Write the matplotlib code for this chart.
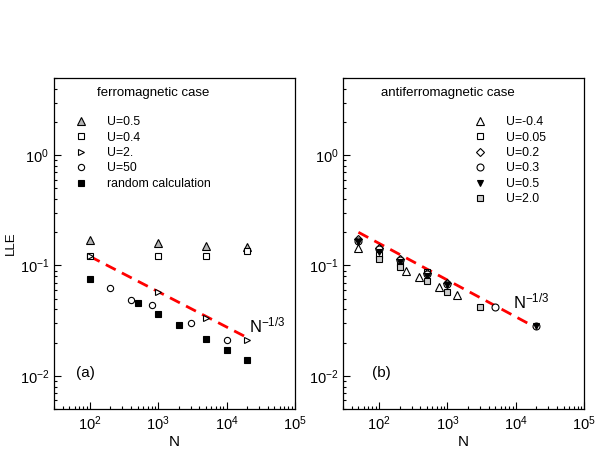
import matplotlib
matplotlib.use("Agg")
import matplotlib.pyplot as plt
from matplotlib.ticker import LogLocator, NullFormatter

plt.rcParams["font.family"] = ["Liberation Sans", "DejaVu Sans"]
plt.rcParams["mathtext.fontset"] = "custom"
plt.rcParams["mathtext.rm"] = "Liberation Sans"
plt.rcParams["mathtext.it"] = "Liberation Sans:italic"

# ---------------------------------------------------------
# Data: ferromagnetic case (a)
# ---------------------------------------------------------
fm_u05_n = [100, 1000, 5000, 20000]
fm_u05_y = [0.17, 0.159, 0.151, 0.148]

fm_u04_n = [100, 1000, 5000, 20000]
fm_u04_y = [0.123, 0.121, 0.123, 0.135]

fm_u2_n = [100, 1000, 5000, 20000]
fm_u2_y = [0.123, 0.0575, 0.0336, 0.0211]

fm_u50_n = [200, 400, 800, 3000, 10000]
fm_u50_y = [0.062, 0.0488, 0.0436, 0.0303, 0.0211]

fm_rand_n = [100, 500, 1000, 2000, 5000, 10000, 20000]
fm_rand_y = [0.0754, 0.046, 0.0367, 0.0286, 0.0217, 0.017, 0.0139]

fm_fit_n = [100, 20000]
fm_fit_y = [0.121, 0.0222]

# ---------------------------------------------------------
# Data: antiferromagnetic case (b)
# ---------------------------------------------------------
af_um04_n = [50, 250, 380, 750, 1400]
af_um04_y = [0.145, 0.0896, 0.0786, 0.0638, 0.0545]

af_u005_n = [100, 200, 500]
af_u005_y = [0.125, 0.105, 0.088]

af_u02_n = [50, 100, 200, 500, 1000]
af_u02_y = [0.175, 0.143, 0.115, 0.085, 0.07]

af_u03_n = [50, 100, 200, 500, 1000, 5000, 20000]
af_u03_y = [0.168, 0.14, 0.113, 0.083, 0.068, 0.042, 0.0283]

af_u05_n = [50, 100, 200, 500, 1000, 20000]
af_u05_y = [0.163, 0.133, 0.108, 0.08, 0.066, 0.0283]

af_u20_n = [100, 200, 500, 1000, 3000]
af_u20_y = [0.115, 0.097, 0.073, 0.058, 0.042]

af_fit_n = [50, 20000]
af_fit_y = [0.2, 0.0272]

GRAY = "#b4b4b4"
LIGHT = "#cccccc"


def style_axis(ax):
    ax.set_xscale("log")
    ax.set_yscale("log")
    ax.set_xlim(30, 1e5)
    ax.set_ylim(0.005, 5)
    ax.xaxis.set_major_locator(LogLocator(base=10, numticks=10))
    ax.yaxis.set_major_locator(LogLocator(base=10, numticks=10))
    ax.xaxis.set_minor_locator(LogLocator(base=10, subs=range(2, 10), numticks=20))
    ax.yaxis.set_minor_locator(LogLocator(base=10, subs=range(2, 10), numticks=20))
    ax.xaxis.set_minor_formatter(NullFormatter())
    ax.yaxis.set_minor_formatter(NullFormatter())
    ax.tick_params(which="both", direction="in", top=False, right=False,
                   labelsize=10.5)
    ax.tick_params(which="major", length=5, width=0.8)
    ax.tick_params(which="minor", length=2.5, width=0.8)
    ax.set_xlabel("N", fontsize=11, labelpad=2)
    for s in ax.spines.values():
        s.set_linewidth(0.9)


def fit_line(ax, n, y):
    ax.plot(n, y, color="red", lw=2, linestyle=(0, (4, 2.5)), zorder=2)


fig = plt.figure(figsize=(5.98, 4.55), dpi=100)

kw = dict(linestyle="none", markeredgecolor="black", markeredgewidth=0.8, zorder=3)
leg_kw = dict(loc="upper left", frameon=False, fontsize=8.8, handlelength=2.0,
              handletextpad=1.1, labelspacing=0.28, borderaxespad=0, borderpad=0)

# ---------------------------------------------------------
# Panel (a)
# ---------------------------------------------------------
ax1 = fig.add_axes([0.0903, 0.101, 0.403, 0.7275])
style_axis(ax1)
fit_line(ax1, fm_fit_n, fm_fit_y)

ax1.plot(fm_u05_n, fm_u05_y, marker="^", ms=5.5, markerfacecolor=GRAY,
         label="U=0.5", **kw)
ax1.plot(fm_u04_n, fm_u04_y, marker="s", ms=4.2, markerfacecolor="white",
         label="U=0.4", **kw)
ax1.plot(fm_u2_n, fm_u2_y, marker=">", ms=5, markerfacecolor="white",
         label="U=2.", **kw)
ax1.plot(fm_u50_n, fm_u50_y, marker="o", ms=4.5, markerfacecolor="white",
         label="U=50", **kw)
ax1.plot(fm_rand_n, fm_rand_y, marker="s", ms=4.8, markerfacecolor="black",
         label="random calculation", **kw)

ax1.set_ylabel("LLE", fontsize=9.5)
ax1.yaxis.set_label_coords(-0.153, 0.5)
ax1.text(0.413, 0.955, "ferromagnetic case", transform=ax1.transAxes,
         ha="center", va="center", fontsize=9.5)
ax1.legend(bbox_to_anchor=(0.061, 0.885), **leg_kw)
ax1.text(21000, 0.0245, "N$^{-1/3}$", fontsize=12, ha="left", va="baseline")
ax1.text(0.09, 0.11, "(a)", transform=ax1.transAxes, fontsize=11,
         ha="left", va="center")

# ---------------------------------------------------------
# Panel (b)
# ---------------------------------------------------------
ax2 = fig.add_axes([0.574, 0.101, 0.403, 0.7275])
style_axis(ax2)
fit_line(ax2, af_fit_n, af_fit_y)

ax2.plot(af_um04_n, af_um04_y, marker="^", ms=6, markerfacecolor="white",
         label="U=-0.4", **kw)
ax2.plot(af_u005_n, af_u005_y, marker="s", ms=4.2, markerfacecolor="white",
         label="U=0.05", **kw)
ax2.plot(af_u02_n, af_u02_y, marker="D", ms=4.2, markerfacecolor="white",
         label="U=0.2", **kw)
ax2.plot(af_u03_n, af_u03_y, marker="o", ms=5, markerfacecolor="white",
         label="U=0.3", **kw)
ax2.plot(af_u05_n, af_u05_y, marker="v", ms=4.2, markerfacecolor="black",
         label="U=0.5", **kw)
ax2.plot(af_u20_n, af_u20_y, marker="s", ms=4.5, markerfacecolor=LIGHT,
         label="U=2.0", **kw)

ax2.text(0.434, 0.955, "antiferromagnetic case", transform=ax2.transAxes,
         ha="center", va="center", fontsize=9.5)
ax2.legend(bbox_to_anchor=(0.517, 0.885), **leg_kw)
ax2.text(9000, 0.0405, "N$^{-1/3}$", fontsize=12, ha="left", va="baseline")
ax2.text(0.12, 0.11, "(b)", transform=ax2.transAxes, fontsize=11,
         ha="left", va="center")

fig.savefig("out.png", dpi=100)
